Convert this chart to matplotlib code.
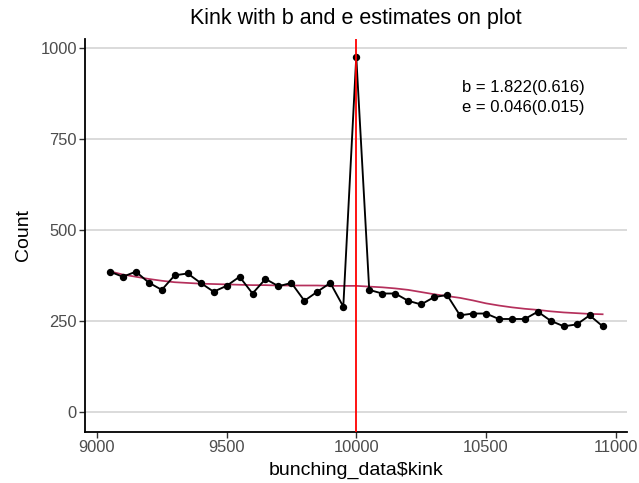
import matplotlib
matplotlib.use("Agg")
import matplotlib.pyplot as plt

plt.rcParams['font.family'] = ['Liberation Sans', 'DejaVu Sans']

kink = [9050, 9100, 9150, 9200, 9250, 9300, 9350, 9400, 9450, 9500,
        9550, 9600, 9650, 9700, 9750, 9800, 9850, 9900, 9950, 10000,
        10050, 10100, 10150, 10200, 10250, 10300, 10350, 10400, 10450, 10500,
        10550, 10600, 10650, 10700, 10750, 10800, 10850, 10900, 10950]
counts = [385, 371, 385, 355, 335, 375, 380, 354, 330, 346,
          371, 325, 365, 345, 354, 305, 330, 354, 289, 975,
          335, 325, 325, 305, 295, 315, 321, 265, 270, 270,
          255, 255, 255, 275, 250, 235, 240, 265, 235]
counterfactual = [386, 377, 371, 365, 360, 356, 354, 352, 351, 350,
                  349, 348, 348, 347, 347, 347, 347, 346, 346, 346,
                  344, 342, 339, 335, 329, 323, 318, 313, 306, 298,
                  292, 287, 283, 280, 276, 273, 271, 269, 268]
kink_point = 10000
yticks = [0, 250, 500, 750, 1000]
xticks = [9000, 9500, 10000, 10500, 11000]
annotation = "b = 1.822(0.616)\ne = 0.046(0.015)"

fig = plt.figure(figsize=(6.39, 4.83), dpi=100)
ax = fig.add_axes([85/639, 1 - 431.5/483, (627-85)/639, (431.5-39)/483])

for y in yticks:
    ax.axhline(y, color='#d4d4d4', lw=1.2, zorder=0)

ax.plot(kink, counts, color='black', lw=1.35, marker='o', ms=4.3, zorder=3)
ax.plot(kink, counterfactual, color='#b5305c', lw=1.25, zorder=2)
ax.axvline(kink_point, color='#ff0000', lw=1.3, zorder=4)

ax.set_xlim(8954, 11044)
ax.set_ylim(-54, 1024)
ax.set_xticks(xticks)
ax.set_yticks(yticks)
ax.tick_params(axis='both', colors='#333333', labelsize=11.9, length=4.6, width=1,
               pad=1.2, labelcolor='#4d4d4d')
for s in ['top', 'right']:
    ax.spines[s].set_visible(False)
for s in ['left', 'bottom']:
    ax.spines[s].set_linewidth(1.3)
    ax.spines[s].set_color('black')

ax.set_xlabel('bunching_data$kink', fontsize=14, labelpad=5)
ax.set_ylabel('Count', fontsize=14, labelpad=6)
ax.set_title('Kink with b and e estimates on plot', fontsize=15.5, pad=11)

ax.text(10408, 863, annotation, fontsize=12, ha='left', va='center', linespacing=1.45)

fig.savefig('out.png', dpi=100)
